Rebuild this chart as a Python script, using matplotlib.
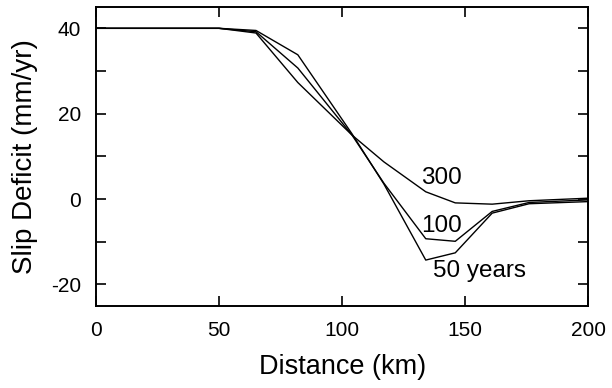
import matplotlib
matplotlib.use("Agg")
import matplotlib.pyplot as plt

plt.rcParams['font.family'] = ['Liberation Sans', 'DejaVu Sans']
plt.rcParams['axes.unicode_minus'] = False

distance = [0, 50, 65, 82, 104, 117, 134, 146, 161, 176, 200]
slip_50 = [40, 40, 39.5, 33.8, 15.3, 3.5, -14.3, -12.6, -3.3, -1.1, -0.6]
slip_100 = [40, 40, 39.2, 30.7, 15.0, 3.7, -9.3, -9.9, -2.9, -0.8, -0.2]
slip_300 = [40, 40, 38.9, 27.3, 15.0, 8.7, 1.7, -0.9, -1.2, -0.4, 0.2]

labels = ["300", "100", "50 years"]
label_x = [140.2, 140.2, 137]
label_y = [4.9, -6.3, -16.9]

fig = plt.figure(figsize=(6.12, 3.88), dpi=100)
ax = fig.add_axes([0.157, 0.212, 0.804, 0.770])

for ys in (slip_50, slip_100, slip_300):
    ax.plot(distance, ys, color='black', lw=1.0)

ax.text(label_x[0], label_y[0], labels[0], ha='center', va='center', fontsize=17.5)
ax.text(label_x[1], label_y[1], labels[1], ha='center', va='center', fontsize=17.5)
ax.text(label_x[2], label_y[2], labels[2], ha='left', va='center', fontsize=17.5)

ax.set_xlim(0, 200)
ax.set_ylim(-25, 45)
ax.set_xticks([0, 50, 100, 150, 200])
ax.set_yticks([-20, 0, 20, 40])
ax.set_yticks([-10, 10, 30], minor=True)
ax.tick_params(which='both', direction='in', top=True, right=True, labelsize=15,
               width=1.2, length=7, pad=11)
ax.tick_params(axis='x', pad=11)
for s in ax.spines.values():
    s.set_linewidth(1.4)

ax.set_xlabel("Distance (km)", fontsize=19.5, labelpad=10)
ax.set_ylabel("Slip Deficit (mm/yr)", fontsize=20, labelpad=9)

fig.savefig("out.png", dpi=100)
